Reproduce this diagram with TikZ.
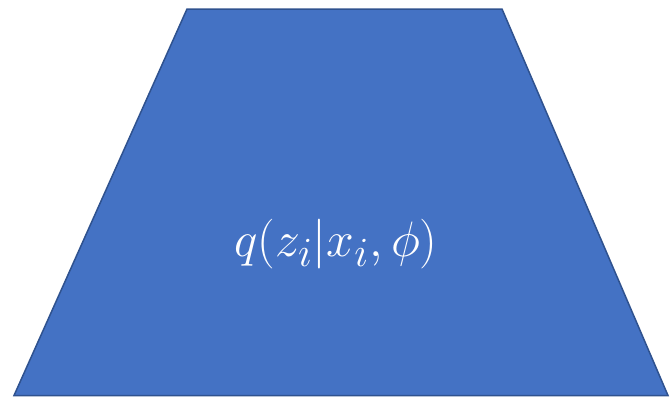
\documentclass[tikz,border=0pt]{standalone}
\usepackage{amsmath}
\definecolor{fillblue}{HTML}{4472C4}
\definecolor{edgeblue}{HTML}{2F528F}
\begin{document}
\begin{tikzpicture}[x=1pt,y=-1pt,
  trap/.style={fill=fillblue,draw=edgeblue,line width=1.5pt,line join=miter},
  lbl/.style={text=white,inner sep=0pt,font=\Huge,scale=2,transform shape}]
\useasboundingbox (0,0) rectangle (671,397);
\draw[trap] (187,9) -- (502,9) -- (668,395.5) -- (14,395.5) -- cycle;
\node[lbl] (q) at (336,244) {$q(z_i|x_i,\phi)$};
\end{tikzpicture}
\end{document}
